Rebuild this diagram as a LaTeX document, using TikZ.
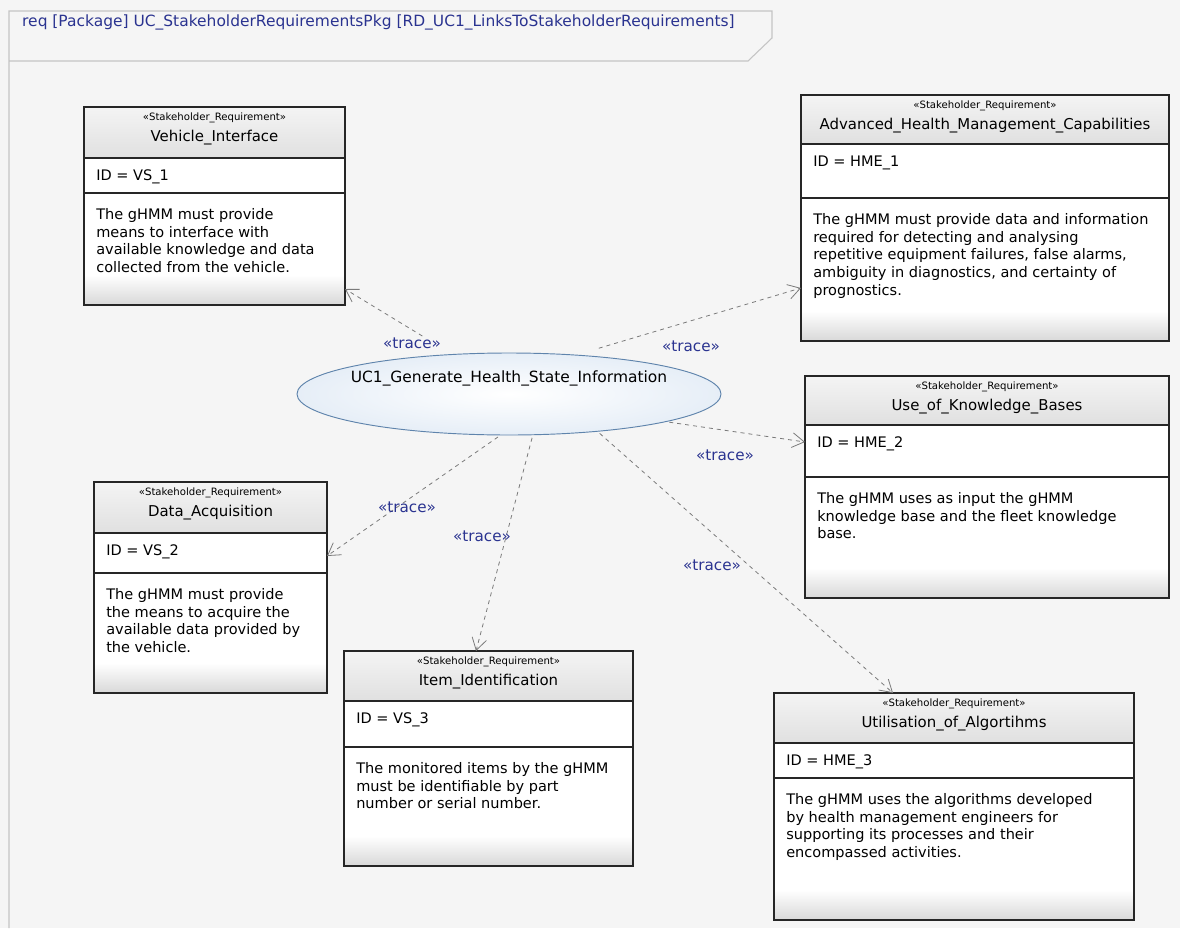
\documentclass[tikz,border=0pt]{standalone}
\usepackage{fontspec}
\setmainfont{DejaVu Sans}
\usetikzlibrary{positioning,arrows.meta,calc,fit,shapes.geometric}
\definecolor{bgc}{HTML}{F5F5F5}
\definecolor{framec}{HTML}{C4C4C4}
\definecolor{navy}{HTML}{2A3390}
\definecolor{hdrtop}{HTML}{F4F4F4}
\definecolor{hdrbot}{HTML}{E0E0E0}
\definecolor{footc}{HTML}{D8D8D8}
\definecolor{ucline}{HTML}{5F84AC}
\definecolor{ucfill}{HTML}{E6EEF7}
\definecolor{tracec}{HTML}{7A7A7A}
\tikzset{
  px/.style={x=0.75pt,y=-0.75pt},
  framel/.style={draw=framec,line width=0.8pt},
  frametitle/.style={font=\fontsize{11.6}{13}\selectfont,text=navy,inner sep=0pt},
  reqfit/.style={inner sep=0pt,outer sep=0pt,fill=white},
  reqline/.style={draw=black!85,line width=0.9pt},
  stereo/.style={font=\fontsize{7.6}{8}\selectfont,inner sep=0pt},
  reqname/.style={font=\fontsize{11.2}{13}\selectfont,inner sep=0pt},
  reqid/.style={font=\fontsize{10.9}{13}\selectfont,inner sep=0pt,anchor=west},
  reqtxt/.style={font=\fontsize{10.9}{13.3}\selectfont,inner sep=0pt,
    anchor=north west,align=left},
  usecase/.style={ellipse,draw=ucline,line width=0.7pt,inner color=white,
    outer color=ucfill,minimum width=318pt,minimum height=61.5pt},
  ucname/.style={font=\fontsize{11.6}{13}\selectfont,inner sep=0pt},
  trace/.style={draw=tracec,dashed,line width=0.6pt,
    -{Straight Barb[length=9pt,width=11pt]}},
  tracelbl/.style={font=\fontsize{11.4}{13}\selectfont,text=navy,inner sep=0pt},
}
% requirement block: name, top left, bottom right, header, id row, title, id, text
\newcommand{\reqbox}[8]{%
  \coordinate (#1-tl) at (#2);
  \coordinate (#1-br) at (#3);
  \node[reqfit,fit=(#1-tl)(#1-br)] (#1) {};
  \shade[top color=hdrtop,bottom color=hdrbot]
    (#1.north west) rectangle ($(#1.north east)+(0,#4)$);
  \shade[top color=white,bottom color=footc]
    ($(#1.south west)+(0,-30)$) rectangle (#1.south east);
  \draw[reqline] ($(#1.north west)+(0,#4)$) -- ($(#1.north east)+(0,#4)$)
    ($(#1.north west)+(0,#5)$) -- ($(#1.north east)+(0,#5)$);
  \draw[reqline] (#1.north west) rectangle (#1.south east);
  \node[stereo] (#1-st) at ($(#1.north)+(0,11)$) {«Stakeholder\_Requirement»};
  \node[reqname] (#1-nm) at ($(#1.north)+(0,31)$) {#6};
  \node[reqid] (#1-id) at ($(#1.north west)+(12,#4+19)$) {ID = #7};
  \node[reqtxt] (#1-tx) at ($(#1.north west)+(12,#5+15)$) {#8};
}

\begin{document}
\begin{tikzpicture}[px]
  \fill[bgc] (0,0) rectangle (1180,928);
  \useasboundingbox (0,0) rectangle (1180,928);
  \draw[framel] (9,928) -- (9,11) -- (772,11) -- (772,38) -- (748,61) -- (9,61);
  \node[frametitle,anchor=east] (title) at (735,22)
    {req [Package] UC\_StakeholderRequirementsPkg [RD\_UC1\_LinksToStakeholderRequirements]};

  \reqbox{vi}{84,107}{345,305}{51}{86}{Vehicle\_Interface}{VS\_1}
    {The gHMM must provide\\means to interface with\\available knowledge and data\\collected from the vehicle.}
  \reqbox{ah}{801,95}{1169,341}{49}{103}{Advanced\_Health\_Management\_Capabilities}{HME\_1}
    {The gHMM must provide data and information\\required for detecting and analysing\\repetitive equipment failures, false alarms,\\ambiguity in diagnostics, and certainty of\\prognostics.}
  \reqbox{kb}{805,376}{1169,598}{49}{101}{Use\_of\_Knowledge\_Bases}{HME\_2}
    {The gHMM uses as input the gHMM\\knowledge base and the fleet knowledge\\base.}
  \reqbox{da}{94,482}{327,693}{51}{91}{Data\_Acquisition}{VS\_2}
    {The gHMM must provide\\the means to acquire the\\available data provided by\\the vehicle.}
  \reqbox{ii}{344,651}{633,866}{50}{96}{Item\_Identification}{VS\_3}
    {The monitored items by the gHMM\\must be identifiable by part\\number or serial number.}
  \reqbox{ua}{774,693}{1134,920}{50}{85}{Utilisation\_of\_Algortihms}{HME\_3}
    {The gHMM uses the algorithms developed\\by health management engineers for\\supporting its processes and their\\encompassed activities.}

  \node[usecase] (uc) at (509,394) {};
  \node[ucname] (uc-nm) at (509,378) {UC1\_Generate\_Health\_State\_Information};

  \draw[trace,shorten <=26pt] (uc.145) -- ($(vi.south east)+(0,-16)$);
  \draw[trace,shorten <=17pt] (uc.30) -- ($(ah.south west)+(0,-53)$);
  \draw[trace,shorten <=2pt] (uc.350) -- ($(kb.north west)+(0,66)$);
  \draw[trace,shorten <=2pt] (uc.258) -- ($(da.north east)+(0,74)$);
  \draw[trace,shorten <=2pt] (uc.300) -- ($(ii.north west)+(132,0)$);
  \draw[trace,shorten <=2pt] (uc.337) -- ($(ua.north west)+(119,0)$);

  \node[tracelbl] (t-vi) at (412,343) {«trace»};
  \node[tracelbl] (t-ah) at (691,346) {«trace»};
  \node[tracelbl] (t-kb) at (725,455) {«trace»};
  \node[tracelbl] (t-da) at (407,507) {«trace»};
  \node[tracelbl] (t-ii) at (482,536) {«trace»};
  \node[tracelbl] (t-ua) at (712,565) {«trace»};
\end{tikzpicture}
\end{document}
